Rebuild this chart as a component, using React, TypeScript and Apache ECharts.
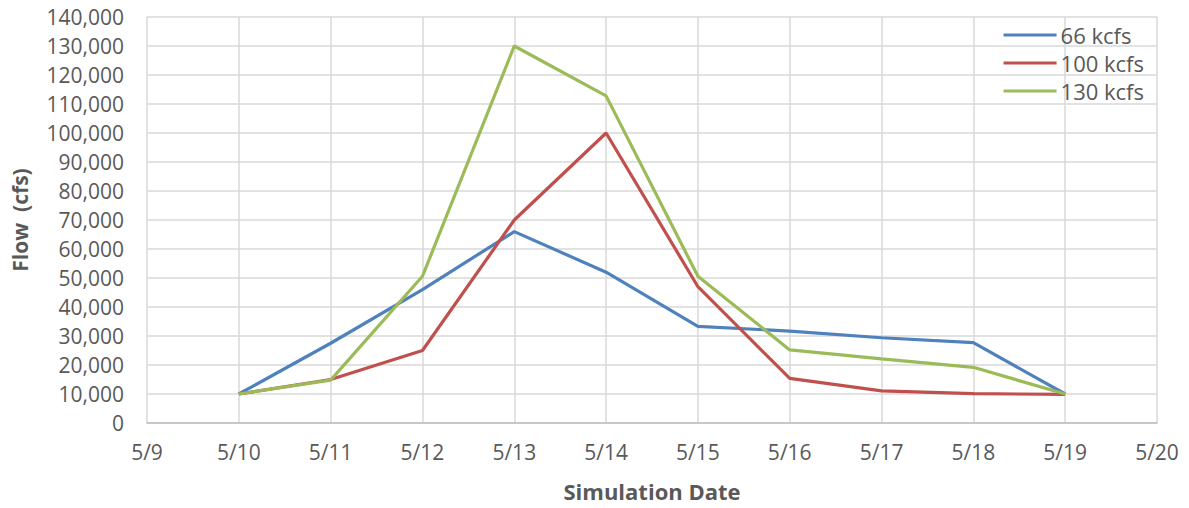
import React, { useEffect, useRef } from "react";
import * as echarts from "echarts";

const categories = ["5/9", "5/10", "5/11", "5/12", "5/13", "5/14", "5/15", "5/16", "5/17", "5/18", "5/19", "5/20"];
const flow66 = [null, 10000, 27500, 46000, 66000, 52000, 33300, 31700, 29400, 27700, 10000, null];
const flow100 = [null, 10000, 15000, 25000, 70000, 100000, 47000, 15400, 11100, 10100, 9900, null];
const flow130 = [null, 10000, 14800, 50600, 130000, 112800, 50600, 25200, 22100, 19200, 10000, null];
const seriesNames = ["66 kcfs", "100 kcfs", "130 kcfs"];
const colors = ["#4F81BD", "#C0504D", "#9BBB59"];

export default function App() {
  const ref = useRef<HTMLDivElement>(null);
  useEffect(() => {
    document.body.style.margin = "0";
    const chart = echarts.init(ref.current!, null, { renderer: "svg" });
    const font = "'Open Sans', Lato, sans-serif";
    const mk = (name: string, data: (number | null)[], color: string) => ({
      name,
      type: "line",
      data,
      showSymbol: false,
      symbol: "none",
      lineStyle: { color, width: 3.2 },
      itemStyle: { color },
      connectNulls: false,
    });
    chart.setOption({
      animation: false,
      grid: { left: 147, right: 32, top: 17, bottom: 85, containLabel: false },
      legend: {
        orient: "vertical",
        right: 40,
        top: 19,
        icon: "rect",
        itemWidth: 53,
        itemHeight: 3,
        itemGap: 6,
        data: seriesNames,
        textStyle: { color: "#595959", fontSize: 22, fontFamily: font, padding: [0, 0, 0, -1] },
      },
      xAxis: {
        type: "category",
        data: categories,
        boundaryGap: false,
        name: "Simulation Date",
        nameLocation: "middle",
        nameGap: 57,
        nameTextStyle: { color: "#595959", fontSize: 22, fontWeight: "bold", fontFamily: font },
        axisLine: { show: true, lineStyle: { color: "#BFBFBF", width: 1.5 } },
        axisTick: { show: false },
        axisLabel: { color: "#595959", fontSize: 21, fontFamily: font, margin: 18, interval: 0 },
        splitLine: { show: true, lineStyle: { color: "#D9D9D9", width: 1.5 } },
      },
      yAxis: {
        type: "value",
        min: 0,
        max: 140000,
        interval: 10000,
        name: "Flow  (cfs)",
        nameLocation: "middle",
        nameGap: 117,
        nameRotate: 90,
        nameTextStyle: { color: "#595959", fontSize: 21, fontWeight: "bold", fontFamily: font },
        axisLine: { show: false },
        axisTick: { show: false },
        axisLabel: {
          color: "#595959",
          fontSize: 21,
          fontFamily: font,
          margin: 23,
          formatter: (v: number) => v.toLocaleString("en-US"),
        },
        splitLine: { show: true, lineStyle: { color: "#D9D9D9", width: 1.5 } },
      },
      series: [
        mk(seriesNames[0], flow66, colors[0]),
        mk(seriesNames[1], flow100, colors[1]),
        mk(seriesNames[2], flow130, colors[2]),
      ],
    });
    return () => chart.dispose();
  }, []);
  return <div ref={ref} style={{ width: 1189, height: 508 }} />;
}
